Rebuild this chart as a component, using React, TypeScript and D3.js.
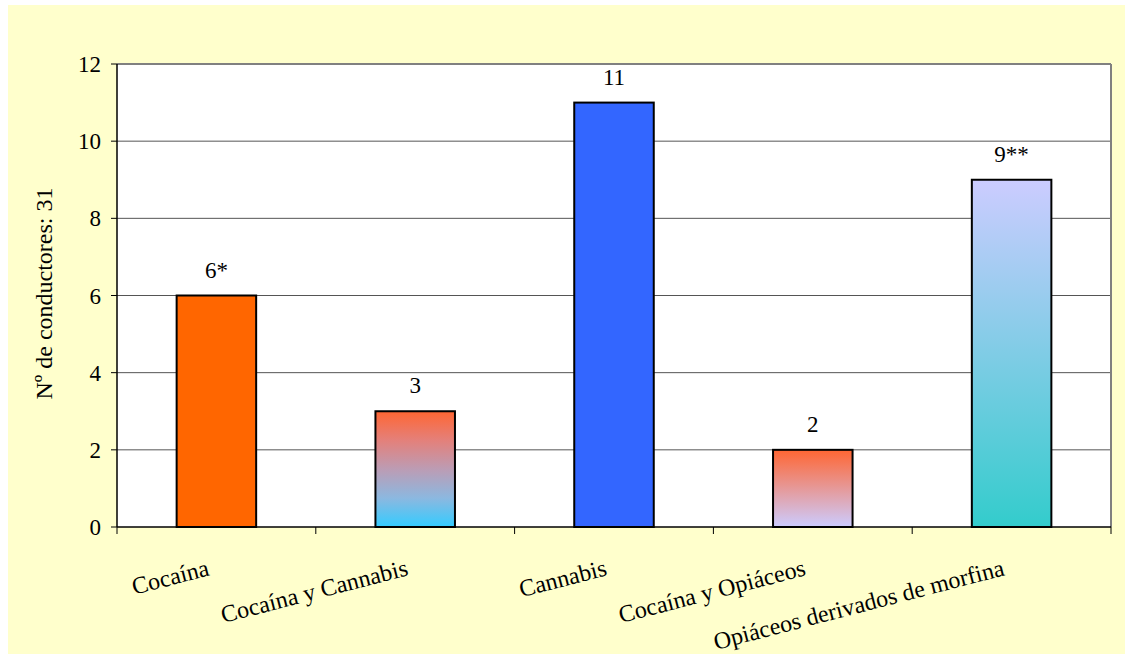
import React from "react";
import * as d3 from "d3";

const categories = ["Cocaína", "Cocaína y Cannabis", "Cannabis", "Cocaína y Opiáceos", "Opiáceos derivados de morfina"];
const values = [6, 3, 11, 2, 9];
const valueLabels = ["6*", "3", "11", "2", "9**"];
const yTicks = [0, 2, 4, 6, 8, 10, 12];
const fills: string[][] = [
  ["#FF6600", "#FF6600"],
  ["#FF6633", "#E4807A", "#BC9CB4", "#8CB8E0", "#33CCFF"],
  ["#3366FF", "#3366FF"],
  ["#FF6633", "#CCCCFF"],
  ["#CCCCFF", "#33CCCC"],
];

const W = 1125, H = 654;
const left = 117, right = 1111, top = 64, bottom = 527;
const ts: React.CSSProperties = { fontFamily: '"Liberation Serif", "Times New Roman", Tinos, FreeSerif, serif' };

export default function App() {
  const x = d3.scaleBand<string>().domain(categories).range([left, right]).paddingInner(0).paddingOuter(0);
  const y = d3.scaleLinear().domain([0, 12]).range([bottom, top]);
  const bw = x.bandwidth() * 0.4;
  return (
    <svg width={W} height={H} style={{ position: "absolute", left: 0, top: 0 }}>
      <defs>
        {fills.map((f, i) => (
          <linearGradient key={i} id={`g${i}`} x1="0" y1="0" x2="0" y2="1">
            {f.map((c, j) => (
              <stop key={j} offset={j / (f.length - 1)} stopColor={c} />
            ))}
          </linearGradient>
        ))}
      </defs>
      <rect x={8} y={5} width={W - 8} height={H - 5} fill="#FFFFCC" />
      <rect x={left} y={top} width={right - left} height={bottom - top} fill="#FFFFFF" />
      {yTicks.map((t) => (
        <g key={t}>
          {t > 0 && t < 12 && <line x1={left} x2={right} y1={y(t)} y2={y(t)} stroke="#555" strokeWidth={1} />}
          <line x1={left - 6} x2={left} y1={y(t)} y2={y(t)} stroke="#000" strokeWidth={1} />
          <text x={left - 16} y={y(t)} dy="0.35em" textAnchor="end" fontSize={23} fill="#000" style={ts}>{t}</text>
        </g>
      ))}
      <line x1={left} x2={right} y1={top} y2={top} stroke="#808080" strokeWidth={2} />
      <line x1={right} x2={right} y1={top} y2={bottom} stroke="#808080" strokeWidth={2} />
      {categories.map((c, i) => {
        const cx = (x(c) as number) + x.bandwidth() / 2;
        return (
          <g key={c}>
            <rect x={cx - bw / 2} y={y(values[i])} width={bw} height={bottom - y(values[i])} fill={`url(#g${i})`} stroke="#000" strokeWidth={2} />
            <text x={cx} y={y(values[i]) - 18} textAnchor="middle" fontSize={23} fill="#000" style={ts}>{valueLabels[i]}</text>
          </g>
        );
      })}
      <line x1={left} x2={left} y1={top} y2={bottom} stroke="#000" strokeWidth={1.5} />
      <line x1={left} x2={right} y1={bottom} y2={bottom} stroke="#000" strokeWidth={1.5} />
      {categories.map((c, i) => (
        <line key={"t" + i} x1={x(c) as number} x2={x(c) as number} y1={bottom} y2={bottom + 7} stroke="#000" />
      ))}
      <line x1={right} x2={right} y1={bottom} y2={bottom + 7} stroke="#000" />
      {categories.map((c) => {
        const cx = (x(c) as number) + x.bandwidth() / 2 - 6;
        return (
          <text key={"l" + c} transform={`translate(${cx},575) rotate(-14.5)`} textAnchor="end" fontSize={24} fill="#000" style={ts}>{c}</text>
        );
      })}
      <text transform={`translate(52,${(top + bottom) / 2 - 2}) rotate(-90)`} textAnchor="middle" fontSize={24} fill="#000" style={ts}>Nº de conductores: 31</text>
    </svg>
  );
}
